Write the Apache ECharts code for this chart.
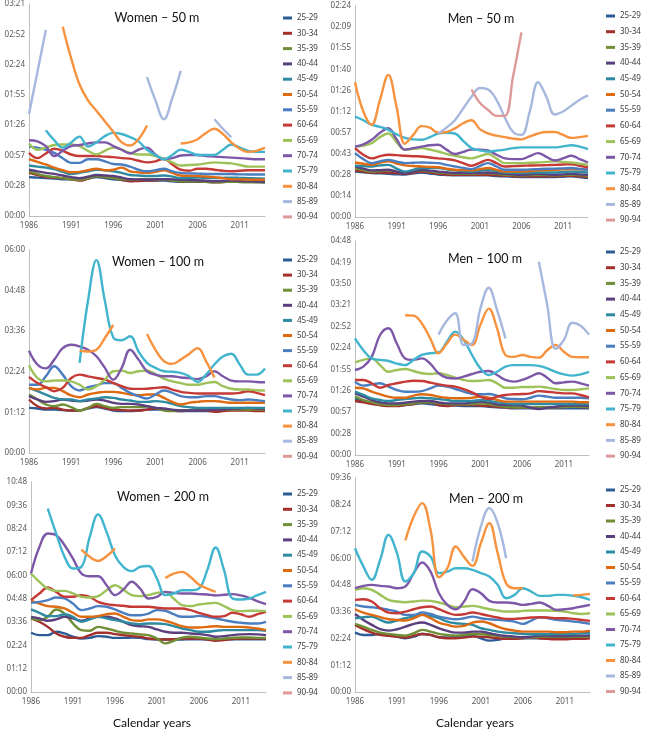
<!DOCTYPE html>
<html><head><meta charset="utf-8">
<script src="https://cdn.jsdelivr.net/npm/echarts@6/dist/echarts.min.js"></script>
<style>html,body{margin:0;padding:0;background:#fff}#c{width:646px;height:730px}</style>
</head><body><div id="c"></div>
<script>
const _ = null;
const years = ['1986','1987','1988','1989','1990','1991','1992','1993','1994','1995','1996','1997','1998','1999','2000','2001','2002','2003','2004','2005','2006','2007','2008','2009','2010','2011','2012','2013','2014'];
const ageGroups = ['25-29','30-34','35-39','40-44','45-49','50-54','55-59','60-64','65-69','70-74','75-79','80-84','85-89','90-94'];
const colors = ['#2C5B96','#A3302D','#6F8E35','#5A3F7E','#2E8AA0','#DE6A12','#4A7EC0','#C63A36','#9DC25A','#7E58A8','#41B4CE','#F7923E','#A6B8DD','#DE9A98'];
const panelTitles = ['Women \u2013 50 m','Men \u2013 50 m','Women \u2013 100 m','Men \u2013 100 m','Women \u2013 200 m','Men \u2013 200 m'];
const xAxisTitle = 'Calendar years';

// y tick labels (mm:ss) per panel; values in seconds
const ticksW50 = ['00:00','00:28','00:57','01:26','01:55','02:24','02:52','03:21'];
const ticksM50 = ['00:00','00:14','00:28','00:43','00:57','01:12','01:26','01:40','01:55','02:09','02:24'];
const ticksW100 = ['00:00','01:12','02:24','03:36','04:48','06:00'];
const ticksM100 = ['00:00','00:28','00:57','01:26','01:55','02:24','02:52','03:21','03:50','04:19','04:48'];
const ticksW200 = ['00:00','01:12','02:24','03:36','04:48','06:00','07:12','08:24','09:36','10:48'];
const ticksM200 = ['00:00','01:12','02:24','03:36','04:48','06:00','07:12','08:24','09:36'];
const tickSteps = [28.8, 14.4, 72, 28.8, 72, 72];

// seconds, rows in ageGroups order, columns 1986..2014
const women50 = [
 [37,36.5,36,35.5,35,34.8,34.5,35.5,37,36,35,34.3,33.6,33.6,33.6,33.6,33.6,33,32.6,32.6,32.6,32.6,32.6,32.8,33,32.8,32.6,32.3,32],
 [41,39,37,36.5,36,35,33.6,35.5,38,37,36,34.5,33,33.3,33.6,34,34.5,33.8,33,33,33,32.5,32,32.3,32.6,32.8,33,32.6,32.3],
 [42.5,40,38,37,36,35,34.5,36,38,37,36,35,34.5,34.8,35,34.8,34.5,33.8,33,33,33,32.5,32,32.3,32.6,32.3,32,32,32],
 [44,42.5,41,40,38.5,37,36,37.5,39,38.5,38,36.5,35,34.8,34.5,34.8,35,34.8,34.5,34.2,34,33.5,33,33.3,33.6,33.3,33,32.8,32.6],
 [48,47,46,44.5,42,40,41,42.5,44,43.5,42.5,41,39,38.5,38,38,38.5,37.5,36,36.3,36.5,36.3,36,36.3,36.5,36.3,36,35.8,35.5],
 [54,51.5,49,46,43.5,41.6,42,43.5,45,43.5,44,46,42.5,41.5,41,42,43.5,41,38.5,38.2,38,37.5,37,36,35,34.8,34.5,34.5,34.5],
 [66,65,63,60,55,50.5,50.5,54,54,52,49.5,49,47,44,42.5,43.5,45,42.5,41,40.5,40.3,40,40,40,39.8,39.6,39.5,39.4,39.4],
 [60,55,59.5,64,62,58.5,57,57,57,56.5,56,55,54.5,52.5,51,52,54.5,49,44,43,45,45,44,43,42.5,43,43.5,43.5,43.5],
 [69,63,65,67.5,68,68,66.5,62,58.5,62,65,63,60,58.5,58.5,57,54.5,51,48,48.5,49,50,51,50.5,50,48.5,47,47,47],
 [72,71,66.5,57,62,66.5,67.5,69,70,70,66.5,63,59.5,63,65,58.5,54,55,57.5,58,58,57,56.5,56,55.5,55,54.5,54,54],
 [_,_,81.6,72,65,70,75.5,66,70,76,79,78,75,71,63,58,54,58,63,61,58,58,58,63,68,65,62,61,61],
 [_,_,_,_,180,150,125,110,100,90,80,70,67,73,86,_,_,_,69,70,73,79,83,78,70,64,61,62,65],
 [97,137,177,_,_,_,_,_,_,_,_,_,_,_,132,110,92,112,138,_,_,_,92,83,75,_,_,_,_],
 []
];
const men50 = [
 [31,30.5,30,29.8,29.5,29.2,29,29.8,30.4,29.7,29,28.7,28.4,28.4,28.4,28.4,28.4,28,27.7,27.5,27.3,27.3,27.3,27.3,27.3,27.5,27.7,27.2,26.6],
 [31.8,31,30.4,30.4,30.4,30,29.5,30.2,31,30.2,29.5,29,28.8,28.8,28.8,28.8,28.8,28.5,28.2,28,27.7,27.7,27.7,27.7,27.7,28,28.2,27.8,27.3],
 [33.4,32,31,31.4,31.8,31,30,31,31.8,31,30.4,30,29.5,29.5,29.5,29.8,30,29.4,28.8,28.6,28.4,28.6,28.8,28.6,28.4,28.6,28.8,28.5,28.2],
 [34.5,33,31.8,32,32.2,31,30,31,32.2,31.6,31,30.5,30,30,30,30.2,30.4,30,29.5,29.1,28.8,29.1,29.5,29.1,28.8,29.1,29.5,29.1,28.8],
 [35,34.7,34.5,35.2,35.6,33,31,32.2,33.4,33.4,33.4,32.6,31.8,31.4,31,31.6,32.2,31.3,30.4,30.2,30,30.2,30.4,30.4,30.4,30.7,31,30.7,30.4],
 [37.2,36.3,35.6,37,38,36.5,35.2,34.8,34.5,34.2,34,33,32.2,32,31.8,32.6,33.4,32.2,31,31,31,31.4,31.8,32,32.2,32.5,32.7,32.5,32.2],
 [43.6,39.5,36.8,38,39,37.8,36.8,37,37.2,37,36.8,35.6,34.5,33.5,32.7,34.8,36.8,34.5,32.2,32.2,32.2,32.5,32.7,32.9,33,33.2,33.4,32.8,32.2],
 [47,42.5,40,41.5,42.5,42.2,41.8,41.5,41.3,40.6,40,39.5,38.6,36.8,35,37,39,36.8,34.5,34.7,35,35.1,35.2,35.4,35.6,35.8,36,35,33.8],
 [48,48.5,50.4,54.5,57,51,46,46.5,47,46,44.7,43,41.8,40.8,40,41.5,43,40,36.8,36.8,36.8,37,37.2,37.6,38,37.6,37.2,36.4,35.6],
 [48,49.5,52.7,57.5,60.6,53,46,47,48,49,49.3,46,43,44.5,46,46,45.4,42.5,40,39.5,39.5,41.5,43.6,41,38.6,40,41.8,39.5,37.2],
 [68.6,66,63,61.5,59.5,56.5,54,53,52.7,54.5,57,57.5,57,52,47,45.5,44.7,45.3,46,47,47.5,47.5,47.5,47.5,47.5,48.2,49,48,46.3],
 [92,72,63,80,97,75,50,56,62,61,57.5,58,60.5,64,66,60,57,55.5,54.5,53.5,53,55,57,58,58,56,54,54.5,55.4],
 [_,_,_,_,_,_,_,_,_,_,57,61,66,74,82,88,87,80,68,58,56,72,92,82,70,72,76,80,83],
 [_,_,_,_,_,_,_,_,_,_,_,_,_,_,87,78,73,69,69,96,126,_,_,_,_,_,_,_,_]
];
const women100 = [
 [80,79,77,77,76,75.4,75.4,79,81.3,79,75.4,74.2,74.2,75.4,77,77,77,75.4,74.2,74.2,74.2,74.2,75.4,76.6,77,77,77,77,77],
 [94.9,83,79,80,77,75.4,75.4,80,83,80,77,76,75.4,75.4,77,79,77,75.4,74.2,75.4,76,75.4,73,74.2,75.4,75.4,75.4,74.2,74.2],
 [103.7,94.9,86,83,86,81.3,75.4,80,87.2,83,80,81.3,81.3,81.3,82.5,80,75.4,74.2,75.4,76,77,77,77,77,77,77,77,77,77],
 [100.8,94.9,90.7,92,94.9,93,92,93,94.9,93,89,87.2,87.2,86,83,80,79,77,75.4,75.4,75.4,75.4,77,77,78.4,79,80,79,79],
 [115.5,109.6,103.7,97.8,94.9,94.9,92,94.9,96.6,99,97.8,94.9,93,90.7,90.7,92,90.7,87.2,83,81.3,80,80,80,80,80,80,80,80,80],
 [115.5,112.5,115.5,115.5,109.6,102,99,103.7,106.7,108.4,108.4,106.7,103.7,102.5,103.7,103.7,97.8,90.7,86,89,90.7,92,92,90.7,89,89,89,89,89],
 [121,121,136,153.8,139,118.4,110.8,116.7,120,124,124,115.5,106.7,100.8,96.6,103.7,110.8,106.7,100.8,99,99,100.8,100.8,97.8,94.9,93.7,94.9,93.7,92],
 [135,124,116.7,109.6,115.5,133,139,136,133,130,124,118.4,114,113.7,114,115.5,116.7,112.5,108.4,106.7,105.5,105.5,105.5,105.5,105.5,106.7,109.6,106.7,102.5],
 [155.6,133,127,128.5,128.5,127,121,112.5,118.4,130,145,146,142,145,146,140,132,127,124,121,121,124,126,118.4,114,112.5,112.5,111.4,110.8],
 [181.5,157,150,165.6,186,192,189,183,171.5,151,130,151,183,165.6,145,139,136,136,134,133,131,136,145,136,128.5,127,127,126,125.5],
 [_,_,_,_,_,_,160,270,342,270,205,200,207,180,160,151,145,144,142,136,126,139,157,171,176,157,139,139,150],
 [_,_,_,_,_,_,181.5,180,183,204,227,_,_,_,211,183,163,158,165.6,175.6,186,163,134,_,_,_,_,_,_],
 [],
 []
];
const men100 = [
 [75.4,72.7,69.5,67.3,66.4,66.4,67.3,68.6,69.5,68.6,67.3,66.4,66.4,66,66,66,65,64.2,63.7,62.8,62.8,62.8,62.8,62.8,62.8,62.8,62.8,62.8,62.8],
 [72.7,70.9,68.6,67.3,66,66,67.3,68.6,70.9,70.9,67.3,66,67.3,67.3,67.3,66.4,66,65,64.2,63.7,63.7,63.7,63.7,64.2,64.2,64.6,65,64.6,64.2],
 [78.5,74,70.9,68.6,67.3,67.3,68.2,69.5,70.9,70.9,69.5,68.6,68.2,68.2,68.6,69.5,68.6,66.4,65,64.2,63.7,63.7,64.2,64.2,64.2,64.6,65,65,64.6],
 [83,78.5,74,70.9,69.5,69.5,70.4,71.8,72.7,72.7,70.9,69.5,69.5,69.5,70.9,71.8,70.9,68.2,67.3,67.3,66.4,63.7,61.9,63.7,65,66.4,66.4,66.4,66],
 [85.2,80.8,76.3,74,72.7,74,75.4,76.3,77,76.3,75.4,74,72.7,72.7,72.7,74,72.7,70.9,69.5,68.6,68.6,68.6,68.6,68.6,68.6,68.6,68.6,68.6,68.2],
 [90.6,89.7,85.2,81.7,78.5,77,77,79.9,81.7,80.8,78.5,77,76.3,76.3,77,78.5,77,74,71.8,71.8,71.8,71.8,71.8,71.8,71.8,71.8,71.8,70.9,70.9],
 [98.7,93.3,95,96.5,92,87.5,85.2,85.2,86,89.7,93.3,92,88.8,85.2,82.5,81.7,82,79.9,76.3,75.4,75,77,79.9,78.5,77,77,77,77,76.3],
 [101,101,96.5,90.6,94.2,96.5,98.7,100,99.6,97.4,95,93.3,92,88.8,84.3,78.5,75.4,78.5,80.8,81.7,82,83,86,85.2,84,83,83,80.8,77.6],
 [124.7,128,130,121,112,114.4,115.7,113,110,109,110,107.7,104,101,99.6,100,101,96.5,90.6,90.6,91.5,91.5,92,90.6,88.8,87.5,87.5,88.4,89.7],
 [114.4,119,132,161.5,170.5,150,130,128,130,123,110,104,103,105.4,109,112,113,107.7,101,98.7,101,105.4,110,104,96.5,97.8,98.7,96.5,93.3],
 [157,141,130,128,126.5,123,121,128,134.6,137,138,152.5,166,155,134.6,116.6,107.7,112,119,121,121,121,120,116.6,112,108.6,106.8,108.6,112],
 [_,_,_,_,_,_,188,187.5,177,157,137,150,162,155,148,175,197,170.5,134.6,132,134.6,132,131,141,148,139,132,131.5,131.5],
 [_,_,_,_,_,_,_,_,_,_,162,181,190.7,148,150,197,225,195,157,_,_,_,260,202,143,155,178,174,162],
 []
];
const women200 = [
 [182.8,175.6,175.6,186,180.7,170.5,165,167,172.5,170.5,167,167,168,167,163,162,162,162,162,163,163,162,162,162,163,163,163,163,163],
 [227,216.7,201,180.7,170.5,167,167,175.6,183,183,178.7,175.6,172.5,170.5,165,163,162,163,165,165,165,162,158,160,163,165,165,165,165],
 [227,221.8,232,254.7,242,211.5,191,189,201,196,189,183,180.7,177.7,175.6,165,150,158,168,170.5,168,165,163,165,167,168,168,167,167],
 [232,227,219.8,224,232,227,219.8,227,232,232,227,216.7,206.4,203,201,193,186,183,183,180.7,178.7,175.6,170.5,172.5,175.6,177.7,178.7,177.7,175.6],
 [254.7,244.4,234,234,240,232,216.7,224,232,227,221.8,216.7,211.5,209.5,211.5,211.5,209.5,203,196,191,186,186,189,191,191,191,191,191,189],
 [281,273,265,263,257.7,244.4,232,232,234,240,242,232,221.8,219.8,224,224,219.8,211.5,203,199,199,201,203,201,201,201,199,196,191],
 [275,278,283.4,291.6,288.6,273,252.6,257.7,265,263,254.7,244.4,237,237,242,252.6,250.6,240,232,232,235,232,227,221.8,216.7,213.6,211.5,211.5,216.7],
 [283.4,304,322.4,309,293.7,293.7,299,293.7,278,271,268,266,263,263,263,260,257.7,257.7,257.7,252.6,244.4,237,232,234,244.4,240,232,240,247.5],
 [365.6,340,319,312,312,304,293.7,291.6,295.7,314,329.6,316,299,295.7,299,306,309,288.6,268,265,270,273,275,265,252.6,249.5,250.6,250.6,249.5],
 [365.6,447.7,489,483.7,453,411.8,365.6,357,357,329.6,299,316,340,319,288.6,293.7,309,306,304,304,302,301,298,300,302,298,290.6,280,271],
 [_,_,566,489,417,381,386,478.5,548,494,422,386,373,386,389,350,299,304,314,314,319,376,446,376,288.6,285.5,288.6,299,309],
 [_,_,_,_,_,_,439.5,417,404.6,419,442.6,_,_,_,_,_,352,365.6,370.7,355,331.7,319,309,_,_,_,_,_,_],
 [],
 []
];
const men200 = [
 [159.9,153.6,153.6,156.3,153.6,149,144.7,149,156.3,153.6,147.3,146.5,147.3,149,151,144.7,138.4,140.2,144.7,144.7,144.7,144.7,144.7,144.7,144.7,144.7,146.5,149,151],
 [180.6,169,159.9,153.6,151,149,146.5,151,156.3,153.6,147.3,144.7,144.7,146.5,149,149,147.3,144.7,142.9,142.9,144.7,146.5,144.7,142.9,142,142,142.9,142.9,144.7],
 [183.3,176,167.1,159.9,156.3,153.6,151.8,158.1,167.1,162.6,156.3,153.6,151.8,153.6,156.3,156.3,153.6,151,149,147.3,147.3,147.3,149,149,149,149,149,149,149],
 [210,194,180.6,169,165.3,169,176,183.3,186.9,180.6,171.6,164.4,159.9,159.9,162.6,162.6,158.1,153.6,151,149,147.3,149,151.8,151.8,151,151,151.8,151.8,151.8],
 [198.6,201.3,203,194,186.9,192.3,198.6,203,207.5,204.9,198.6,189.6,185,183.3,180.6,171.6,167.1,162.6,159.9,158.1,156.3,155.4,155.4,155.4,156.3,156.3,156.3,158.1,158.1],
 [222.8,213.8,207.5,201.3,195.9,194,192.3,198.6,207.5,198.6,186.9,180.6,176,178,186.9,189.6,185,176,169,165.3,162.6,162.6,162.6,162.6,160.8,160.8,162.6,162.6,164.4],
 [234.5,230,228.2,225.5,221,216.5,207.5,207.5,213.8,210,203,198.6,195.9,198.6,203,198.6,195.9,194,192.3,189.6,183.3,192.3,201.3,198.6,194,192.3,189.6,186.9,183.3],
 [248,249.8,243.5,225.5,213.8,212,216.5,222.8,228.2,230,222.8,213.8,207.5,209.3,213.8,210,204.9,200.4,196.8,196.8,198.6,200.4,201.3,200.4,198.6,198.6,196.8,194,191.4],
 [275,279.4,275,261.5,248,243.5,241.7,243.5,246,245.3,240.8,234.5,228.2,230,231.8,228.2,222.8,219.2,216.5,216.5,218.3,219.2,219.2,219.2,218.3,216.5,212,210,212],
 [279.4,285.7,288.4,285.7,284,279.4,284,320,348.6,324,266,234.5,222.8,243.5,276.7,266,245.3,240.8,240.8,239,234.5,237.2,240.8,231.8,221,222.8,225.5,230,234.5],
 [387,338,302,356,423,373.8,297.4,320,378,364.8,320,324,333,333,328.8,320,310.9,288.4,252.5,261.5,279.4,270.4,258.8,258.8,261.5,261.5,258.8,255,248],
 [_,_,_,_,_,_,408,472.6,508.5,436.7,309,333,391.7,363,339.6,400.7,454.6,373.8,293,279.4,279.4,_,_,_,_,_,259.7,261.5,264],
 [_,_,_,_,_,_,_,_,_,_,_,_,_,_,351,445.6,495,454.6,360,_,_,_,_,_,_,_,_,_,_],
 []
];

const panelData = [women50, men50, women100, men100, women200, men200];
const panelTicks = [ticksW50, ticksM50, ticksW100, ticksM100, ticksW200, ticksM200];

// layout (pixels)
const grids = [
  {left:29, top:4, width:236, height:212},
  {left:355, top:6, width:233, height:211},
  {left:29, top:250, width:236, height:203},
  {left:355, top:241, width:234, height:214},
  {left:31, top:482, width:235, height:210},
  {left:355, top:478, width:235, height:214}
];
const legendPos = [
  {left:283, top:13, gap:5.3},
  {left:606, top:11, gap:5.7},
  {left:283, top:255, gap:5.1},
  {left:606, top:247, gap:5.7},
  {left:283, top:489, gap:5.3},
  {left:606, top:485, gap:5.5}
];
const titlePos = [[152,6],[476,7],[153,250],[480,247],[158,485],[481,487]];

const FONT = '"Noto Sans", "DejaVu Sans", sans-serif';
const TFONT = 'Lato, "Noto Sans", sans-serif';
const option = {
  animation: false,
  backgroundColor: '#ffffff',
  title: panelTitles.map((t,i)=>({
    text: t, left: titlePos[i][0], top: titlePos[i][1], textAlign: 'center',
    textStyle:{fontSize:12.5, fontWeight:'normal', color:'#111', fontFamily:TFONT}
  })).concat([
    {text:xAxisTitle, left:147, top:712, textAlign:'center', textStyle:{fontSize:12, fontWeight:'normal', color:'#111', fontFamily:TFONT}},
    {text:xAxisTitle, left:470, top:712, textAlign:'center', textStyle:{fontSize:12, fontWeight:'normal', color:'#111', fontFamily:TFONT}}
  ]),
  grid: grids.map(g=>Object.assign({containLabel:false}, g)),
  xAxis: grids.map((g,i)=>({
    type:'category', gridIndex:i, data: years, boundaryGap:false,
    axisLine:{lineStyle:{color:'#BFBFBF', width:1}},
    axisTick:{show:false},
    axisLabel:{interval:4, fontSize:8, color:'#595959', margin:6, fontFamily:FONT},
    splitLine:{show:false}
  })),
  yAxis: grids.map((g,i)=>{
    const ticks = panelTicks[i], step = tickSteps[i];
    return {
      type:'value', gridIndex:i, min:0, max: step*(ticks.length-1), interval: step,
      axisLine:{show:true, lineStyle:{color:'#BFBFBF', width:1}},
      axisTick:{show:false},
      splitLine:{show:false},
      axisLabel:{fontSize:8, color:'#595959', margin:4, fontFamily:FONT,
        formatter:(v)=>{const k=Math.round(v/step); return ticks[k]!==undefined?ticks[k]:'';}}
    };
  }),
  legend: legendPos.map(l=>({
    orient:'vertical', left:l.left, top:l.top, itemGap:l.gap,
    itemWidth:9, itemHeight:3, icon:'rect', padding:0,
    data: ageGroups,
    textStyle:{fontSize:8, color:'#404040', lineHeight:10, fontFamily:FONT}
  })),
  series: []
};
panelData.forEach((rows,p)=>{
  rows.forEach((vals,k)=>{
    option.series.push({
      type:'line', name: ageGroups[k], xAxisIndex:p, yAxisIndex:p,
      data: vals, smooth:0.4, showSymbol:false, symbol:'none', connectNulls:false,
      lineStyle:{width:2.4, color:colors[k]}, itemStyle:{color:colors[k]},
      emphasis:{disabled:true}
    });
  });
});
const chart = echarts.init(document.getElementById('c'), null, {renderer:'canvas'});
chart.setOption(option);
</script>
</body></html>
